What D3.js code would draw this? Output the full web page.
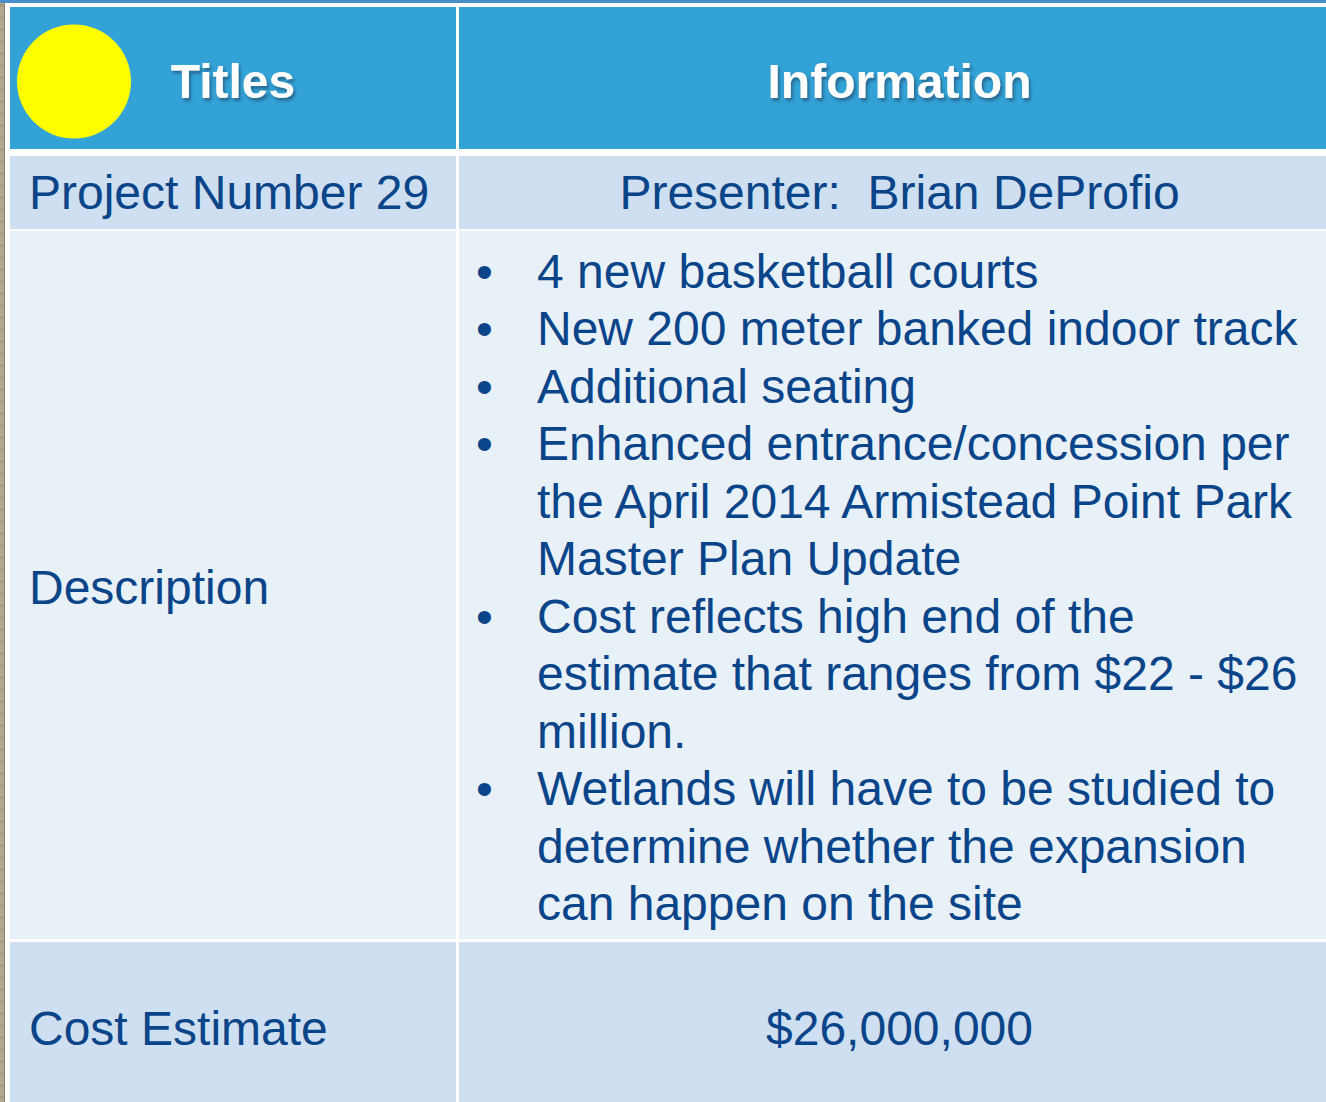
<!DOCTYPE html>
<html>
<head>
<meta charset="utf-8">
<script src="https://cdn.jsdelivr.net/npm/d3@7"></script>
<style>
  html, body { margin: 0; padding: 0; background: #fff; overflow: hidden; }
  text { font-family: "Liberation Sans", Arial, sans-serif; }
</style>
</head>
<body>
<div id="table"></div>
<script>
// table content
var headers = ["Titles", "Information"];
var rowTitles = ["Project Number 29", "Description", "Cost Estimate"];
var presenter = "Presenter:  Brian DeProfio";
var cost = "$26,000,000";
// each bullet is a list of the lines as wrapped on the slide
var bullets = [
    ["4 new basketball courts"],
    ["New 200 meter banked indoor track"],
    ["Additional seating"],
    ["Enhanced entrance/concession per", "the April 2014 Armistead Point Park", "Master Plan Update"],
    ["Cost reflects high end of the", "estimate that ranges from $22 - $26", "million."],
    ["Wetlands will have to be studied to", "determine whether the expansion", "can happen on the site"]
];

var W = 1326, H = 1102;
var left = 10, split = 457, right = 1340;
// row tops / bottoms
var rowY = [[7, 149], [156, 229], [231, 939], [942, 1110]];
var rowFill = ["#33a2d6", "#cddff0", "#e8f0f8", "#cddff0"];
var textColor = "#0a4489";
var fs = 48, lineH = 57.5;

var svg = d3.select("#table")
    .append("svg")
    .attr("width", W)
    .attr("height", H);

var defs = svg.append("defs");
var f = defs.append("filter").attr("id", "shadow")
    .attr("x", "-10%").attr("y", "-10%").attr("width", "130%").attr("height", "140%");
f.append("feDropShadow")
    .attr("dx", 2).attr("dy", 3).attr("stdDeviation", 1.5)
    .attr("flood-color", "#1a3a5a").attr("flood-opacity", 0.55);

var tex = defs.append("pattern").attr("id", "tex")
    .attr("width", 5).attr("height", 12).attr("patternUnits", "userSpaceOnUse");
tex.append("rect").attr("width", 5).attr("height", 12).attr("fill", "#b4a990");
tex.append("rect").attr("y", 4).attr("width", 5).attr("height", 3).attr("fill", "#a89d85");
tex.append("rect").attr("x", 4).attr("width", 1).attr("height", 12).attr("fill", "#8f8672");

// background
svg.append("rect").attr("width", W).attr("height", H).attr("fill", "#ffffff");
svg.append("rect").attr("x", 0).attr("y", 0).attr("width", 5).attr("height", H).attr("fill", "url(#tex)");
svg.append("rect").attr("x", 0).attr("y", 0).attr("width", W).attr("height", 3).attr("fill", "#4a8fca");

// cells
var cols = [[left, split - 1], [split + 2, right]];
rowY.forEach(function(r, i) {
    cols.forEach(function(c) {
        svg.append("rect")
            .attr("x", c[0])
            .attr("y", r[0])
            .attr("width", c[1] - c[0])
            .attr("height", r[1] - r[0])
            .attr("fill", rowFill[i]);
    });
});

var colMid = cols.map(function(c) { return (c[0] + c[1]) / 2; });

// header
svg.selectAll(".hdr")
    .data(headers)
    .enter()
    .append("text")
    .attr("class", "hdr")
    .attr("x", function(d, i) { return colMid[i]; })
    .attr("y", 98)
    .attr("text-anchor", "middle")
    .attr("fill", "#ffffff")
    .attr("font-weight", "bold")
    .attr("font-size", fs)
    .attr("filter", "url(#shadow)")
    .text(function(d) { return d; });

svg.append("circle")
    .attr("cx", 74)
    .attr("cy", 81.5)
    .attr("r", 57)
    .attr("fill", "#ffff00");

// row titles
var titleY = [209, 604, 1045];
svg.selectAll(".rt")
    .data(rowTitles)
    .enter()
    .append("text")
    .attr("class", "rt")
    .attr("x", 29)
    .attr("y", function(d, i) { return titleY[i]; })
    .attr("fill", textColor)
    .attr("font-size", fs)
    .text(function(d) { return d; });

svg.append("text")
    .attr("x", colMid[1])
    .attr("y", 209)
    .attr("text-anchor", "middle")
    .attr("fill", textColor)
    .attr("font-size", fs)
    .style("white-space", "pre")
    .text(presenter);

svg.append("text")
    .attr("x", colMid[1])
    .attr("y", 1045)
    .attr("text-anchor", "middle")
    .attr("fill", textColor)
    .attr("font-size", fs)
    .text(cost);

// bullet list
var lineIdx = 0;
var firstBase = 287.5;
var g = svg.append("g");
bullets.forEach(function(b) {
    g.append("text")
        .attr("x", 476)
        .attr("y", firstBase + lineIdx * lineH)
        .attr("fill", textColor)
        .attr("font-size", fs)
        .text("\u2022");
    b.forEach(function(line) {
        g.append("text")
            .attr("x", 537)
            .attr("y", firstBase + lineIdx * lineH)
            .attr("fill", textColor)
            .attr("font-size", fs)
            .text(line);
        lineIdx++;
    });
});
</script>
</body>
</html>
